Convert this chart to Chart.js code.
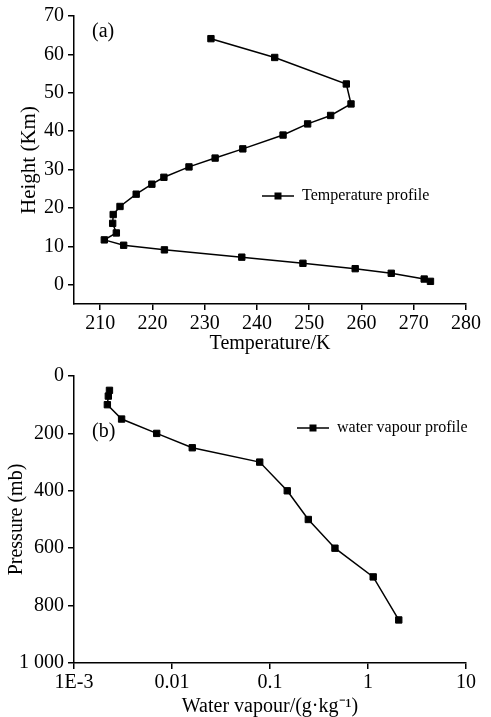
<!DOCTYPE html>
<html>
<head>
<meta charset="utf-8">
<script src="https://cdn.jsdelivr.net/npm/chart.js@4/dist/chart.umd.min.js"></script>
<style>
  html, body { margin: 0; padding: 0; background: #fff; }
  #wrap { position: relative; width: 491px; height: 717px; }
  canvas { position: absolute; left: 0; }
  #chartA { top: 0; }
  #chartB { top: 360px; }
</style>
</head>
<body>
<div id="wrap">
  <canvas id="chartA" width="491" height="360"></canvas>
  <canvas id="chartB" width="491" height="357"></canvas>
</div>
<script>
  // ── (a) Temperature profile, listed from the surface upward ──────────────
  const tempK    = [273.2, 272.0, 265.7, 258.8, 248.8, 237.1, 222.3, 214.5, 210.8, 213.1, 212.4, 212.5, 213.8,
                    216.9, 219.9, 222.2, 227.0, 232.0, 237.3, 245.0, 249.7, 254.1, 258.0, 257.1, 243.4, 231.2];
  const heightKm = [0.9, 1.5, 3.0, 4.2, 5.6, 7.2, 9.1, 10.3, 11.7, 13.5, 16.0, 18.3, 20.4,
                    23.6, 26.2, 28.0, 30.7, 33.0, 35.4, 39.0, 41.9, 44.1, 47.1, 52.3, 59.2, 64.1];
  const tempTicks   = [210, 220, 230, 240, 250, 260, 270, 280];
  const heightTicks = [0, 10, 20, 30, 40, 50, 60, 70];

  // ── (b) Water vapour profile ─────────────────────────────────────────────
  const pressureMb = [50, 70, 100, 150, 200, 250, 300, 400, 500, 600, 700, 850];
  const vapourGkg  = [0.0023, 0.00224, 0.00219, 0.00306, 0.00698, 0.0161, 0.0785, 0.150, 0.246, 0.460, 1.13, 2.06];
  const vapourTicks        = [0.001, 0.01, 0.1, 1, 10];
  const vapourTickLabels   = ["1E-3", "0.01", "0.1", "1", "10"];
  const pressureTicks      = [0, 200, 400, 600, 800, 1000];
  const pressureTickLabels = ["0", "200", "400", "600", "800", "1 000"];

  const serif = '"Liberation Serif", "Times New Roman", serif';
  Chart.defaults.font.family = serif;
  Chart.defaults.color = "#000";

  // Replace the generated ticks with a fixed list (no tick at the axis minimum)
  const fixedTicks = (values) => (scale) => { scale.ticks = values.map(v => ({ value: v })); };

  // Only the left/bottom axis lines with outward tick marks, no grid
  const axisStyle = {
    grid: { drawOnChartArea: false, drawTicks: true, tickLength: 6, color: "#000", lineWidth: 1.5 },
    border: { display: true, color: "#000", width: 1.5 }
  };

  // Panel letter and the "—■— text" legend drawn inside the plot
  const panelDecor = {
    id: "panelDecor",
    afterDraw(chart, args, o) {
      const ctx = chart.ctx;
      ctx.save();
      ctx.fillStyle = "#000";
      ctx.strokeStyle = "#000";
      ctx.textBaseline = "middle";
      ctx.font = "20px " + serif;
      ctx.fillText(o.label, o.labelX, o.labelY);
      const lx = o.legendX, ly = o.legendY;
      ctx.lineWidth = 1.5;
      ctx.beginPath();
      ctx.moveTo(lx, ly);
      ctx.lineTo(lx + 32, ly);
      ctx.stroke();
      ctx.fillRect(lx + 16 - 3.5, ly - 3.5, 7, 7);
      ctx.font = "16px " + serif;
      ctx.fillText(o.legendText, lx + 40, ly);
      ctx.restore();
    }
  };

  const lineSet = (label, data) => ({
    label,
    data,
    showLine: true,
    borderColor: "#000",
    borderWidth: 1.5,
    pointStyle: "rect",
    pointRadius: 4.5,
    pointBackgroundColor: "#000",
    pointBorderColor: "#000",
    pointBorderWidth: 1
  });

  new Chart(document.getElementById("chartA"), {
    type: "scatter",
    data: { datasets: [lineSet("Temperature profile", tempK.map((t, i) => ({ x: t, y: heightKm[i] })))] },
    options: {
      responsive: false,
      animation: false,
      layout: { padding: { top: 16, right: 25, left: 0, bottom: 0 } },
      plugins: {
        legend: { display: false },
        tooltip: { enabled: false },
        panelDecor: { label: "(a)", labelX: 92, labelY: 32, legendText: "Temperature profile", legendX: 262, legendY: 196 }
      },
      scales: {
        x: {
          type: "linear", min: 205, max: 280,
          afterBuildTicks: fixedTicks(tempTicks),
          afterFit: (s) => { s.height = 56; },
          ticks: { font: { size: 20 }, padding: 2, maxRotation: 0, autoSkip: false },
          title: { display: true, text: "Temperature/K", font: { size: 20 }, padding: { top: 0, bottom: 4 } },
          ...axisStyle
        },
        y: {
          type: "linear", min: -5, max: 70,
          afterBuildTicks: fixedTicks(heightTicks),
          afterFit: (s) => { s.width = 74; },
          ticks: { font: { size: 20 }, padding: 4 },
          title: { display: true, text: "Height (Km)", font: { size: 21 }, padding: { top: 17, bottom: 0 } },
          ...axisStyle
        }
      }
    },
    plugins: [panelDecor]
  });

  new Chart(document.getElementById("chartB"), {
    type: "scatter",
    data: { datasets: [lineSet("water vapour profile", vapourGkg.map((q, i) => ({ x: q, y: pressureMb[i] })))] },
    options: {
      responsive: false,
      animation: false,
      layout: { padding: { top: 14, right: 25, left: 0, bottom: 0 } },
      plugins: {
        legend: { display: false },
        tooltip: { enabled: false },
        panelDecor: { label: "(b)", labelX: 92, labelY: 72, legendText: "water vapour profile", legendX: 297, legendY: 68 }
      },
      scales: {
        x: {
          type: "logarithmic", min: 0.001, max: 10,
          afterBuildTicks: fixedTicks(vapourTicks),
          afterFit: (s) => { s.height = 54; },
          ticks: { font: { size: 20 }, padding: 2, maxRotation: 0, autoSkip: false,
                   callback: (v, i) => vapourTickLabels[i] },
          title: { display: true, text: "Water vapour/(g·kg⁻¹)", font: { size: 20, lineHeight: 1 }, padding: { top: 0, bottom: 0 } },
          ...axisStyle
        },
        y: {
          type: "linear", min: 0, max: 1000, reverse: true,
          afterBuildTicks: fixedTicks(pressureTicks),
          afterFit: (s) => { s.width = 74; },
          ticks: { font: { size: 20 }, padding: 4, callback: (v, i) => pressureTickLabels[i] },
          title: { display: true, text: "Pressure (mb)", font: { size: 20 }, padding: { top: 5, bottom: 0 } },
          ...axisStyle
        }
      }
    },
    plugins: [panelDecor]
  });
</script>
</body>
</html>
